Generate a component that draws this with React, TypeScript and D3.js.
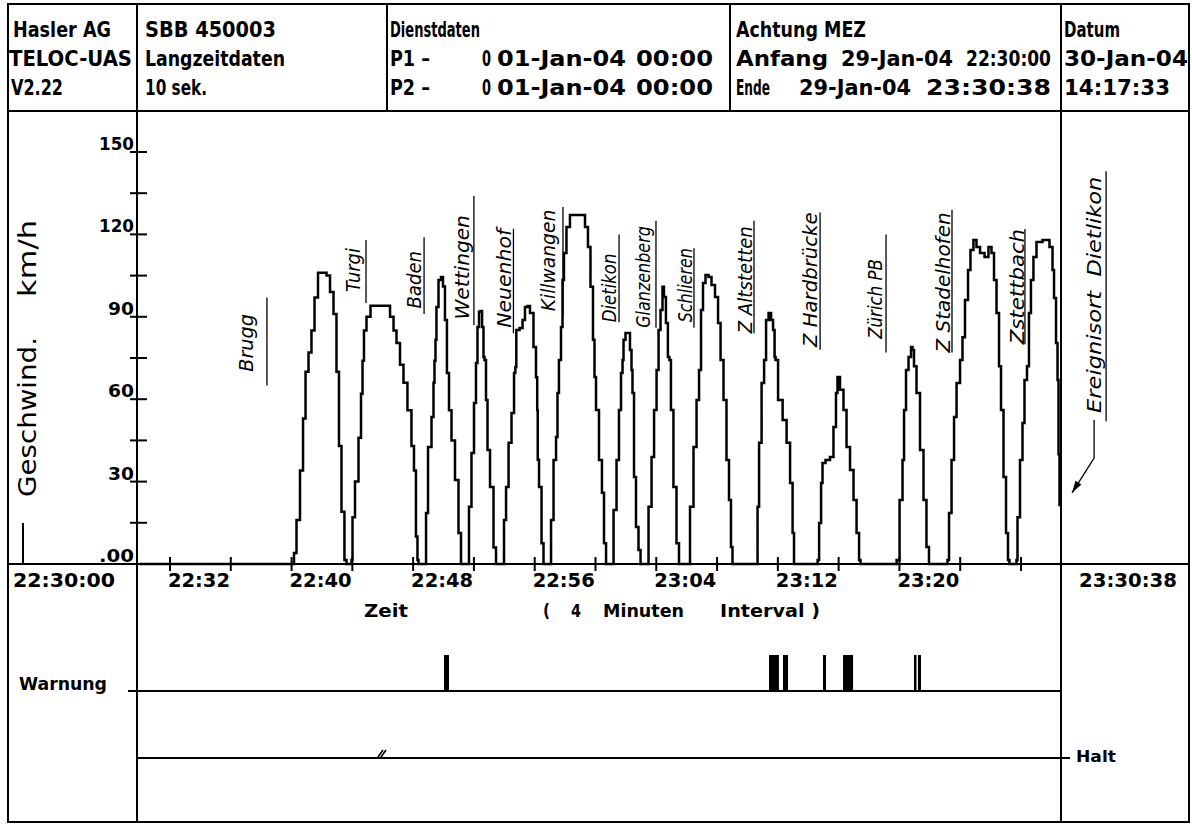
import { useEffect, useRef } from "react";
import * as d3 from "d3";

// recorder: minutes after 22:30:00 -> speed in km/h (10 s samples)
const runBruggTurgi = [[10.09, 0], [10.23, 4], [10.42, 16], [10.69, 34], [10.82, 53], [11.02, 70], [11.21, 77], [11.41, 85], [11.61, 97], [11.87, 106], [12.2, 106], [12.4, 105], [12.66, 99], [12.86, 91], [13.05, 70], [13.19, 43], [13.38, 19], [13.58, 1.5], [13.65, 0]];
const runTurgiBaden = [[13.91, 0], [13.98, 1.5], [14.04, 17], [14.31, 30], [14.5, 46], [14.64, 62], [14.7, 74], [14.83, 85], [15.03, 90], [15.36, 94], [16.35, 94], [16.61, 90], [16.81, 85], [17.0, 80.5], [17.27, 72.5], [17.46, 66], [17.79, 56], [17.99, 43], [18.12, 34], [18.25, 10], [18.32, 1.5], [18.39, 0]];
const runBadenWettingen = [[18.85, 0], [18.85, 18.6], [19.11, 42.6], [19.31, 53.5], [19.37, 66], [19.44, 74], [19.5, 81.6], [19.57, 93.6], [19.77, 103.4], [19.9, 104.5], [20.03, 101], [20.16, 88.8], [20.29, 69.5], [20.43, 56], [20.62, 45], [20.89, 30.6], [21.08, 11.3], [21.22, 0]];
const runWettingenNeuenhof = [[21.61, 0], [21.74, 20.8], [21.94, 40.4], [22.07, 58.6], [22.2, 73.2], [22.27, 86.3], [22.4, 91.8], [22.47, 92.1], [22.6, 86.3], [22.66, 75.4], [22.73, 74.3], [22.86, 59.7], [22.93, 41.5], [23.19, 28], [23.39, 6], [23.52, 0]];
const runNeuenhofKillwangen = [[23.91, 0], [24.05, 16], [24.18, 28], [24.38, 44.1], [24.57, 55], [24.71, 69.5], [24.74, 71.7], [24.84, 85.2], [25.17, 85.9], [25.23, 88.8], [25.49, 93.6], [25.56, 93.9], [25.82, 91.4], [26.02, 79], [26.15, 68], [26.18, 56], [26.22, 38], [26.35, 28], [26.55, 7.6], [26.61, 0]];
const runKillwangenDietikon = [[27.01, 0], [27.14, 16], [27.34, 37.9], [27.47, 46.2], [27.53, 62.3], [27.66, 74.3], [27.8, 86.3], [27.86, 103.4], [27.99, 113.2], [28.19, 122.7], [28.45, 127.1], [29.18, 127.1], [29.44, 122.7], [29.57, 115.4], [29.77, 100.9], [29.9, 81.6], [29.97, 68.1], [30.1, 56.1], [30.36, 37.9], [30.49, 25.9], [30.63, 7.6], [30.76, 0]];
const runDietikonGlanzenberg = [[31.09, 0], [31.29, 19.7], [31.48, 37.9], [31.61, 56.1], [31.75, 69.5], [31.81, 74.3], [31.88, 81.6], [32.07, 84.1], [32.2, 84.1], [32.34, 77.9], [32.4, 70.6], [32.47, 62.3], [32.6, 31.7], [32.73, 13.5], [32.93, 5.1], [33.0, 0]];
const runGlanzenbergSchlieren = [[33.39, 0], [33.59, 20.8], [33.79, 39], [33.92, 56.1], [34.12, 70.6], [34.18, 85.2], [34.38, 92.5], [34.44, 100.9], [34.57, 97.2], [34.7, 87.7], [34.83, 75.4], [34.9, 74.3], [35.03, 56.1], [35.23, 28], [35.43, 7.6], [35.56, 0]];
const runSchlierenAltstetten = [[36.09, 0], [36.35, 20.8], [36.55, 42.6], [36.75, 59.7], [36.88, 70.6], [37.01, 92.5], [37.14, 102.3], [37.34, 105.2], [37.54, 104.5], [37.73, 101.6], [38.0, 97.2], [38.13, 87.7], [38.33, 74.3], [38.52, 59.7], [38.72, 37.9], [38.85, 23.3], [38.98, 6.2], [39.05, 0]];
const runAltstettenHardbruecke = [[40.63, 0], [40.7, 20.8], [40.83, 44.1], [41.03, 65.9], [41.16, 74.3], [41.29, 88.8], [41.49, 91.4], [41.62, 88.8], [41.75, 85.2], [41.82, 75.4], [41.88, 74.3], [42.15, 59.7], [42.48, 52.4], [42.67, 44.1], [42.94, 29.5], [43.0, 11.3], [43.13, 0]];
const runHardbrueckeZuerich = [[44.59, 0], [44.65, 1.5], [44.78, 14.9], [44.91, 29.5], [44.97, 36.8], [45.3, 37.9], [45.56, 39], [45.76, 49.9], [45.89, 62.3], [45.96, 68.1], [46.22, 63.4], [46.42, 56.1], [46.62, 42.6], [46.88, 34.2], [47.08, 23.3], [47.28, 11.3], [47.41, 1.5], [47.47, 0]];
const runZuerichStadelhofen = [[49.78, 0], [49.85, 1.5], [50.17, 23.3], [50.24, 37.9], [50.37, 56.1], [50.5, 70.6], [50.7, 75.4], [50.83, 79], [50.89, 77.9], [51.03, 72], [51.22, 62.3], [51.49, 41.5], [51.68, 23.3], [51.88, 6.2], [52.01, 0]];
const runStadelhofenStettbach = [[53.13, 0], [53.2, 1.5], [53.33, 18.6], [53.53, 37.9], [53.66, 53.5], [53.86, 65.9], [54.12, 74.3], [54.18, 82.6], [54.45, 96.1], [54.58, 107], [54.77, 114.3], [54.97, 118], [55.17, 115.4], [55.44, 113.2], [55.76, 111.8], [55.96, 115.4], [56.16, 113.2], [56.29, 103.4], [56.49, 91.4], [56.62, 72], [56.75, 56.1], [56.95, 31.7], [57.08, 11.3], [57.21, 1.5], [57.27, 0]];
const runStettbachDietlikon = [[57.67, 0], [57.74, 1.5], [57.8, 17], [58.07, 37.9], [58.13, 51.3], [58.33, 67], [58.46, 72], [58.59, 91.4], [58.72, 103.4], [58.92, 111.8], [59.12, 117.2], [59.71, 118], [60.04, 115.4], [60.11, 107], [60.24, 96.8], [60.37, 80.5], [60.44, 67], [60.5, 40], [60.57, 21.5]];

const runs = [
  runBruggTurgi, runTurgiBaden, runBadenWettingen, runWettingenNeuenhof,
  runNeuenhofKillwangen, runKillwangenDietikon, runDietikonGlanzenberg,
  runGlanzenbergSchlieren, runSchlierenAltstetten, runAltstettenHardbruecke,
  runHardbrueckeZuerich, runZuerichStadelhofen, runStadelhofenStettbach,
  runStettbachDietlikon,
];

// handwritten station notes: t = minute of the text baseline, lo/hi = km/h span
const stationNames = ["Brugg", "Turgi", "Baden", "Wettingen", "Neuenhof", "Killwangen", "Dietikon", "Glanzenberg", "Schlieren", "Z Altstetten", "Z Hardbrücke", "Zürich PB", "Z Stadelhofen", "Zstettbach", "Ereignisort  Dietlikon"];
const stationT = [7.47, 14.5, 18.51, 21.67, 24.44, 27.34, 31.35, 33.59, 36.35, 40.3, 44.58, 48.85, 53.33, 58.2, 63.27];
const stationLo = [70, 99, 93, 89, 86, 92, 88, 86, 88, 84, 79, 82, 77, 80, 55];
const stationHi = [91, 115, 114, 127, 122, 129, 113, 123, 115, 123, 128, 111, 128, 122, 141];
const underlineT = [8.38, 14.9, 18.72, 22.0, 24.6, 27.86, 31.55, 33.98, 36.48, 40.43, 44.78, 49.12, 53.46, 58.26, 63.6];
const underlineLo = [65, 95, 91, 87, 84, 90, 88, 86, 86, 84, 78, 77, 77, 80, 52];
const underlineHi = [97, 118, 119, 134, 122, 130, 120, 125, 115, 125, 128, 120, 129, 122, 143];
const eventLeader = [[62.81, 52.4], [62.81, 38.6], [61.36, 25.9]];

// Warnung pulses, minutes from/to
const warnPulses = [[20.03, 20.36], [41.42, 42.07], [42.34, 42.67], [44.97, 45.17], [46.29, 46.95], [50.96, 51.09], [51.22, 51.42]];

const yMajor = [0, 30, 60, 90, 120, 150];
const yMajorLabels = [".00", "30", "60", "90", "120", "150"];
const yMinor = [15, 45, 75, 105, 135];
const xTickMinutes = [2, 6, 10, 14, 18, 22, 26, 30, 34, 38, 42, 46, 50, 54, 58];
const xLabelMinutes = [2, 10, 18, 26, 34, 42, 50];
const xLabels = ["22:32", "22:40", "22:48", "22:56", "23:04", "23:12", "23:20"];

const W = 1192;
const H = 825;
const LEFT = 137;
const RIGHT = 1061;
const HEAD = 111;
const BASE = 564;
const WARN_Y = 691;
const HALT_Y = 758;

const mono = "'DejaVu Sans Condensed', 'DejaVu Sans', sans-serif";
const hand = "'DejaVu Sans', sans-serif";

const App = () => {
  const ref = useRef<SVGSVGElement>(null);

  useEffect(() => {
    const svg = d3.select(ref.current);
    svg.selectAll("*").remove();

    const x = d3.scaleLinear().domain([0, 60.633]).range([139.6, 1061]);
    const y = d3.scaleLinear().domain([0, 150]).range([BASE, 152]);

    svg.append("rect").attr("width", W).attr("height", H).attr("fill", "#fff");

    const frame = svg.append("g").attr("stroke", "#000").attr("stroke-width", 2).attr("fill", "none");
    frame.append("rect").attr("x", 8).attr("y", 4).attr("width", 1181).attr("height", 818);
    frame.append("line").attr("x1", 8).attr("x2", 1189).attr("y1", HEAD).attr("y2", HEAD);
    frame.append("line").attr("x1", 8).attr("x2", 1189).attr("y1", BASE).attr("y2", BASE);
    [LEFT, RIGHT].forEach((vx) => frame.append("line").attr("x1", vx).attr("x2", vx).attr("y1", 4).attr("y2", 822));
    [387, 730].forEach((vx) => frame.append("line").attr("x1", vx).attr("x2", vx).attr("y1", 4).attr("y2", HEAD));

    // header block
    const header = [
      { t: "Hasler AG", x: 13, w: 98, r: 0 },
      { t: "TELOC-UAS", x: 9, w: 123, r: 1 },
      { t: "V2.22", x: 11, w: 52, r: 2 },
      { t: "SBB 450003", x: 145, w: 131, r: 0 },
      { t: "Langzeitdaten", x: 145, w: 140, r: 1 },
      { t: "10 sek.", x: 145, w: 62, r: 2 },
      { t: "Dienstdaten", x: 390, w: 90, r: 0 },
      { t: "P1 –", x: 390, w: 40, r: 1 },
      { t: "0", x: 482, w: 9, r: 1 },
      { t: "01-Jan-04", x: 497, w: 129, r: 1 },
      { t: "00:00", x: 636, w: 77, r: 1 },
      { t: "P2 –", x: 390, w: 40, r: 2 },
      { t: "0", x: 482, w: 9, r: 2 },
      { t: "01-Jan-04", x: 497, w: 129, r: 2 },
      { t: "00:00", x: 636, w: 77, r: 2 },
      { t: "Achtung MEZ", x: 736, w: 130, r: 0 },
      { t: "Anfang", x: 736, w: 92, r: 1 },
      { t: "29-Jan-04", x: 841, w: 112, r: 1 },
      { t: "22:30:00", x: 966, w: 85, r: 1 },
      { t: "Ende", x: 736, w: 34, r: 2 },
      { t: "29-Jan-04", x: 799, w: 112, r: 2 },
      { t: "23:30:38", x: 926, w: 125, r: 2 },
      { t: "Datum", x: 1064, w: 56, r: 0 },
      { t: "30-Jan-04", x: 1064, w: 124, r: 1 },
      { t: "14:17:33", x: 1064, w: 106, r: 2 },
    ];
    const rowY = [37, 66, 95];
    svg.append("g")
      .selectAll("text")
      .data(header)
      .join("text")
      .attr("x", (d) => d.x)
      .attr("y", (d) => rowY[d.r])
      .attr("textLength", (d) => d.w)
      .attr("lengthAdjust", "spacingAndGlyphs")
      .attr("font-family", mono)
      .attr("font-size", 21)
      .attr("font-weight", "bold")
      .text((d) => d.t);

    // y axis ticks and labels
    const ax = svg.append("g").attr("stroke", "#000").attr("stroke-width", 2);
    [...yMajor.slice(1), ...yMinor].forEach((v) =>
      ax.append("line").attr("x1", 130).attr("x2", 147).attr("y1", y(v)).attr("y2", y(v)));
    svg.append("g")
      .selectAll("text")
      .data(yMajor)
      .join("text")
      .attr("x", 134)
      .attr("y", (d) => y(d) - 2)
      .attr("text-anchor", "end")
      .attr("font-family", "'DejaVu Sans', sans-serif")
      .attr("font-weight", "bold")
      .attr("font-size", 17)
      .attr("textLength", (_, i) => (yMajorLabels[i].length === 2 ? 26 : 35))
      .attr("lengthAdjust", "spacingAndGlyphs")
      .text((_, i) => yMajorLabels[i]);

    // y axis title
    const title = [
      { t: "Geschwind.", y0: 497, len: 160 },
      { t: "km/h", y0: 297, len: 77 },
    ];
    title.forEach((d) =>
      svg.append("text")
        .attr("transform", `translate(36,${d.y0}) rotate(-90)`)
        .attr("font-family", "'DejaVu Sans', sans-serif")
        .attr("font-size", 25)
        .attr("textLength", d.len)
        .attr("lengthAdjust", "spacingAndGlyphs")
        .text(d.t));
    ax.append("line").attr("x1", 23).attr("x2", 23).attr("y1", 523).attr("y2", BASE);

    // x axis ticks and labels
    xTickMinutes.forEach((m) =>
      ax.append("line").attr("x1", x(m)).attr("x2", x(m)).attr("y1", 557).attr("y2", 571));
    const tickText = svg.append("g")
      .attr("font-family", mono)
      .attr("font-size", 19)
      .attr("font-weight", "bold");
    tickText.selectAll("text.tl")
      .data(xLabelMinutes)
      .join("text")
      .attr("class", "tl")
      .attr("x", (d) => x(d) - 2)
      .attr("y", 587)
      .attr("textLength", 62)
      .attr("lengthAdjust", "spacingAndGlyphs")
      .text((_, i) => xLabels[i]);
    [
      { t: "22:30:00", x: 13, w: 102 },
      { t: "23:30:38", x: 1079, w: 98 },
    ].forEach((d) =>
      tickText.append("text").attr("x", d.x).attr("y", 587).attr("textLength", d.w)
        .attr("lengthAdjust", "spacingAndGlyphs").text(d.t));

    const caption = svg.append("g")
      .attr("font-family", mono)
      .attr("font-size", 18)
      .attr("font-weight", "bold");
    [
      { t: "Zeit", x: 364, w: 44 },
      { t: "(", x: 543, w: 7 },
      { t: "4", x: 571, w: 10 },
      { t: "Minuten", x: 603, w: 81 },
      { t: "Interval )", x: 720, w: 100 },
    ].forEach((d) =>
      caption.append("text").attr("x", d.x).attr("y", 617).attr("textLength", d.w)
        .attr("lengthAdjust", "spacingAndGlyphs").text(d.t));

    // speed trace, drawn as the recorder's staircase
    const pts: number[][] = [[0, 0]];
    runs.forEach((r) => pts.push(...r));
    const line = d3.line<number[]>().x((d) => x(d[0])).y((d) => y(d[1])).curve(d3.curveStep);
    svg.append("path")
      .attr("d", line(pts))
      .attr("fill", "none")
      .attr("stroke", "#000")
      .attr("stroke-width", 2.5)
      .attr("stroke-linejoin", "miter");

    // station notes
    const notes = svg.append("g").attr("font-family", hand).attr("font-style", "italic").attr("font-weight", 200).attr("font-size", 19);
    stationNames.forEach((name, i) => {
      notes.append("text")
        .attr("transform", `translate(${x(stationT[i])},${y(stationLo[i])}) rotate(-90)`)
        .attr("textLength", y(stationLo[i]) - y(stationHi[i]))
        .attr("lengthAdjust", "spacingAndGlyphs")
        .style("white-space", "pre")
        .text(name);
      notes.append("line")
        .attr("x1", x(underlineT[i])).attr("x2", x(underlineT[i]))
        .attr("y1", y(underlineLo[i])).attr("y2", y(underlineHi[i]))
        .attr("stroke", "#000").attr("stroke-width", 1.3);
    });
    svg.append("path")
      .attr("d", d3.line<number[]>().x((d) => x(d[0])).y((d) => y(d[1]))(eventLeader))
      .attr("fill", "none").attr("stroke", "#000").attr("stroke-width", 1.3);
    const tip = eventLeader[eventLeader.length - 1];
    const prev = eventLeader[eventLeader.length - 2];
    const ang = Math.atan2(y(tip[1]) - y(prev[1]), x(tip[0]) - x(prev[0]));
    svg.append("path")
      .attr("d", "M0,0 L-12,-3.5 L-12,3.5 Z")
      .attr("transform", `translate(${x(tip[0])},${y(tip[1])}) rotate(${(ang * 180) / Math.PI})`)
      .attr("fill", "#000");

    // Warnung / Halt channels
    const ch = svg.append("g").attr("stroke", "#000").attr("stroke-width", 2);
    ch.append("line").attr("x1", 128).attr("x2", RIGHT).attr("y1", WARN_Y).attr("y2", WARN_Y);
    ch.append("line").attr("x1", LEFT).attr("x2", 1070).attr("y1", HALT_Y).attr("y2", HALT_Y);
    svg.append("g")
      .selectAll("rect")
      .data(warnPulses)
      .join("rect")
      .attr("x", (d) => x(d[0]))
      .attr("y", 655)
      .attr("width", (d) => Math.max(2.5, x(d[1]) - x(d[0])))
      .attr("height", WARN_Y - 655)
      .attr("fill", "#000");
    svg.append("path")
      .attr("d", "M378,757 L383,750 M381,757 L386,750")
      .attr("stroke", "#000").attr("stroke-width", 1.6);

    const lab = svg.append("g").attr("font-family", "'DejaVu Sans', sans-serif").attr("font-weight", "bold");
    lab.append("text").attr("x", 19).attr("y", 690).attr("font-size", 17)
      .attr("textLength", 88).attr("lengthAdjust", "spacingAndGlyphs").text("Warnung");
    lab.append("text").attr("x", 1076).attr("y", 762).attr("font-size", 16)
      .attr("textLength", 40).attr("lengthAdjust", "spacingAndGlyphs").text("Halt");
  }, []);

  return (
    <svg
      ref={ref}
      width={W}
      height={H}
      style={{ position: "absolute", left: 0, top: 0, display: "block" }}
    />
  );
};

export default App;
